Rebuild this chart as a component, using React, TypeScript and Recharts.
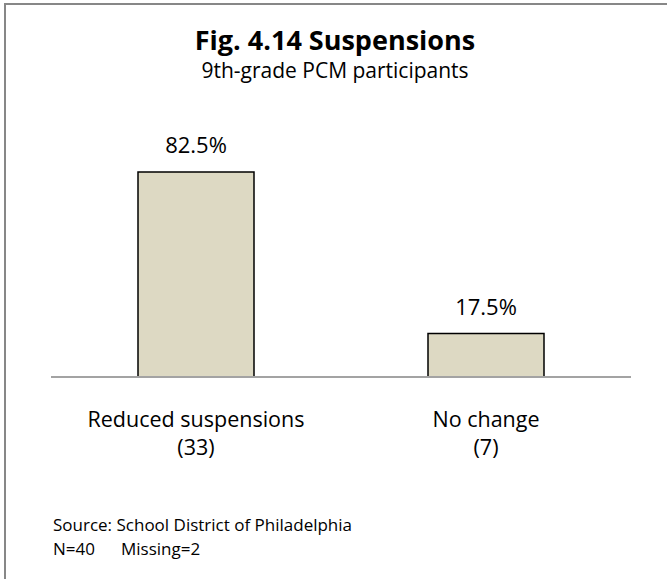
import React from 'react';
import { BarChart, Bar, XAxis, YAxis, LabelList } from 'recharts';

const categories = ['Reduced suspensions', 'No change'];
const counts = [33, 7];
const percents = [82.5, 17.5];

const data = categories.map((name, i) => ({ name, count: counts[i], pct: percents[i] }));

const FONT = '"Open Sans", "Noto Sans", sans-serif';

interface TickProps {
  x?: number;
  y?: number;
  index?: number;
  payload?: { value: string; index?: number };
}

// two-line category label: name, then count in brackets
const CategoryTick: React.FC<TickProps> = (props) => {
  const { x = 0, y = 0, payload } = props;
  const idx = categories.indexOf(payload?.value ?? '');
  return (
    <g>
      <text x={x} y={y + 42} textAnchor="middle" fontSize={21.5} fill="#000" fontFamily={FONT}>
        {payload?.value}
      </text>
      <text x={x} y={y + 70} textAnchor="middle" fontSize={21.5} fill="#000" fontFamily={FONT}>
        ({counts[idx]})
      </text>
    </g>
  );
};

export default function App() {
  return (
    <div
      style={{
        position: 'relative',
        width: 667,
        height: 579,
        background: '#fff',
        overflow: 'hidden',
        fontFamily: FONT,
        color: '#000',
      }}
    >
      <style>{'body{margin:0}'}</style>
      {/* chart frame, right and bottom edges run off the page */}
      <div
        style={{
          position: 'absolute',
          left: 4,
          top: 3,
          width: 700,
          height: 700,
          border: '2px solid #878787',
          boxSizing: 'border-box',
        }}
      />
      <div
        style={{
          position: 'absolute',
          left: 0,
          width: 670,
          top: 25,
          textAlign: 'center',
          fontWeight: 700,
          fontSize: 27,
          lineHeight: '30px',
        }}
      >
        Fig. 4.14 Suspensions
      </div>
      <div
        style={{
          position: 'absolute',
          left: 0,
          width: 670,
          top: 59,
          textAlign: 'center',
          fontSize: 21,
          lineHeight: '23px',
        }}
      >
        9th-grade PCM participants
      </div>
      <div style={{ position: 'absolute', left: 0, top: 0 }}>
        <BarChart
          width={667}
          height={579}
          data={data}
          margin={{ top: 128.5, right: 36, bottom: 142, left: 51 }}
          barCategoryGap="30%"
        >
          <XAxis
            dataKey="name"
            height={60}
            interval={0}
            tickLine={false}
            axisLine={{ stroke: '#a3a3a3', strokeWidth: 2 }}
            tick={<CategoryTick />}
          />
          <YAxis hide domain={[0, 100]} />
          <Bar dataKey="pct" fill="#ddd9c3" stroke="#000" strokeWidth={1.5} isAnimationActive={false}>
            <LabelList
              dataKey="pct"
              position="top"
              offset={19}
              formatter={(v: number) => `${v}%`}
              style={{ fontSize: 22, fill: '#000', fontFamily: FONT }}
            />
          </Bar>
        </BarChart>
      </div>
      <div
        style={{
          position: 'absolute',
          left: 53,
          top: 513,
          fontSize: 17,
          lineHeight: '24px',
        }}
      >
        <div>Source: School District of Philadelphia</div>
        <div>
          N=40<span style={{ display: 'inline-block', width: 26 }} />Missing=2
        </div>
      </div>
    </div>
  );
}
